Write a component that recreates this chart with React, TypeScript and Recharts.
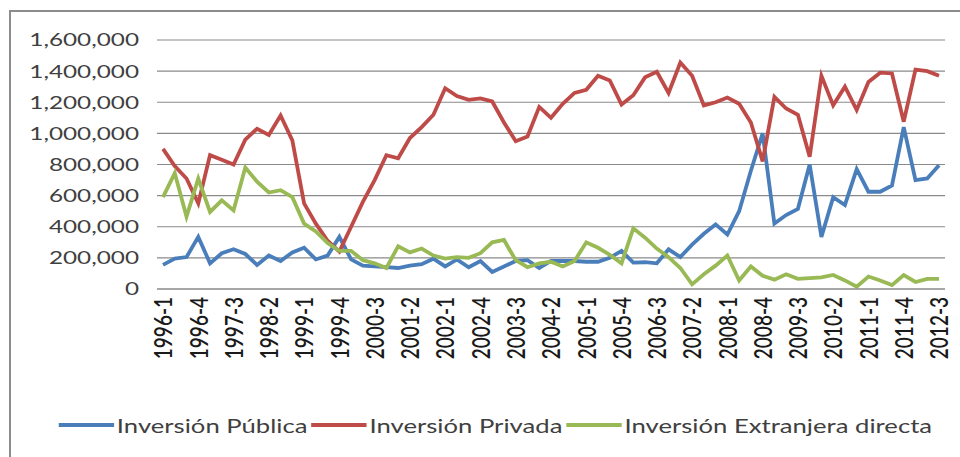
import React from 'react';
import { LineChart, Line, XAxis, YAxis, CartesianGrid, Legend } from 'recharts';

const years = [1996, 1997, 1998, 1999, 2000, 2001, 2002, 2003, 2004, 2005, 2006, 2007, 2008, 2009, 2010, 2011, 2012];
const quartersPerYear = [1, 2, 3, 4];
const quarters: string[] = [];
years.forEach((y) => quartersPerYear.forEach((q) => { if (!(y === 2012 && q > 3)) quarters.push(`${y}-${q}`); }));

// values in thousands
const publica = [155,195,205,335,165,230,255,225,155,215,180,235,265,190,215,335,190,150,145,140,135,150,160,195,145,190,140,180,110,145,180,185,135,180,180,180,175,175,200,245,170,172,165,255,205,285,355,415,350,500,760,1000,420,475,515,800,335,590,540,770,625,625,665,1040,700,710,795];
const privada = [900,790,710,550,860,830,800,960,1030,990,1115,955,550,420,310,240,400,560,700,860,840,970,1040,1120,1290,1240,1215,1225,1205,1070,950,980,1170,1100,1190,1260,1280,1370,1340,1185,1245,1360,1396,1260,1455,1370,1180,1200,1230,1190,1070,820,1235,1160,1120,850,1370,1180,1300,1150,1330,1390,1385,1075,1410,1400,1370];
const extranjera = [590,745,465,710,495,570,505,780,690,620,635,590,420,370,295,245,245,185,165,135,275,235,260,215,195,205,200,230,300,315,185,140,165,175,145,180,300,265,220,165,390,330,260,205,135,30,95,150,215,55,145,85,60,95,65,70,75,90,55,15,80,55,25,90,45,65,65];

const yTicks = [0, 200000, 400000, 600000, 800000, 1000000, 1200000, 1400000, 1600000];

const seriesNames = ['Inversión Pública', 'Inversión Privada', 'Inversión Extranjera directa'];
const seriesColors = ['#4A7EBB', '#BE4B48', '#98B954'];

const data = quarters.map((q, i) => ({
  q,
  publica: publica[i] * 1000,
  privada: privada[i] * 1000,
  extranjera: extranjera[i] * 1000,
}));

const STRETCH = 1.35;

const YTick = (props: any) => {
  const { x, y, payload } = props;
  return (
    <g transform={`translate(${x},${y}) scale(${STRETCH},1)`}>
      <text x={0} y={0} dy="0.36em" textAnchor="end" fontFamily="Lato" fontSize={18} fill="#404040">
        {Number(payload.value).toLocaleString('en-US')}
      </text>
    </g>
  );
};

const XTick = (props: any) => {
  const { x, y, payload } = props;
  return (
    <g transform={`translate(${x},${y}) scale(${STRETCH},1) rotate(-90)`}>
      <text x={0} y={0} dy="0.36em" textAnchor="end" fontFamily="Lato" fontSize={19} fontWeight={600} fill="#1a1a1a">
        {payload.value}
      </text>
    </g>
  );
};

const renderLegend = (props: any) => {
  const payload = [...(props.payload || [])].sort(
    (a: any, b: any) => seriesNames.indexOf(a.value) - seriesNames.indexOf(b.value)
  );
  return (
    <div style={{ height: 30, display: 'flex', justifyContent: 'center', alignItems: 'center', transform: `scaleX(${STRETCH})`, fontFamily: 'Lato', fontSize: 19, color: '#404040', paddingLeft: 37 }}>
      {payload.map((p: any, i: number) => (
        <div key={i} style={{ display: 'flex', alignItems: 'center', marginRight: 3 }}>
          <span style={{ display: 'inline-block', width: 41, height: 4, background: p.color, marginRight: 2 }} />
          <span>{p.value}</span>
        </div>
      ))}
    </div>
  );
};

export default function App() {
  return (
    <div style={{ position: 'absolute', left: 0, top: 0, width: 960, height: 457, background: '#fff', overflow: 'hidden' }}>
      <div style={{ position: 'absolute', left: 9, top: 10, width: 970, height: 470, border: '2px solid #8c8c8c', boxSizing: 'border-box' }} />
      <div style={{ position: 'absolute', left: 0, top: 0 }}>
        <LineChart width={960} height={457} data={data} margin={{ top: 40, right: 15, left: 0, bottom: 17 }}>
          <CartesianGrid vertical={false} stroke="#8a8a8a" strokeWidth={1.2} />
          <XAxis dataKey="q" interval={2} padding={{ left: 6, right: 6 }} tick={<XTick />} tickLine={false} axisLine={{ stroke: '#8a8a8a', strokeWidth: 1.2 }} height={121} />
          <YAxis width={157} domain={[0, 1600000]} ticks={yTicks} tick={<YTick />} tickLine={false} axisLine={false} tickMargin={12} interval={0} />
          <Legend verticalAlign="bottom" content={renderLegend} />
          <Line type="linear" dataKey="publica" name={seriesNames[0]} stroke={seriesColors[0]} strokeWidth={3.8} dot={false} isAnimationActive={false} />
          <Line type="linear" dataKey="privada" name={seriesNames[1]} stroke={seriesColors[1]} strokeWidth={3.8} dot={false} isAnimationActive={false} />
          <Line type="linear" dataKey="extranjera" name={seriesNames[2]} stroke={seriesColors[2]} strokeWidth={3.8} dot={false} isAnimationActive={false} />
        </LineChart>
      </div>
    </div>
  );
}
